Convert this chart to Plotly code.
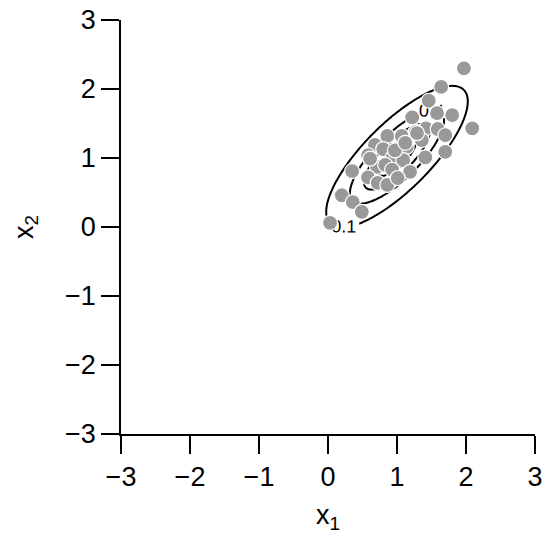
import numpy as np
import plotly.graph_objects as go

# Sample points (x1, x2)
x1 = [1.97, 1.64, 2.09, 1.46, 1.58, 1.80, 1.22, 1.42, 1.59, 1.70,
      1.36, 0.86, 1.07, 1.27, 0.68, 0.80, 1.01, 1.14, 1.41, 1.70,
      0.94, 1.09, 0.58, 0.71, 0.83, 0.93, 1.19, 0.58, 0.72, 0.86,
      0.35, 0.03, 0.20, 0.36, 0.49, 1.01, 0.97, 1.29, 0.61, 1.12]
x2 = [2.30, 2.03, 1.43, 1.83, 1.65, 1.62, 1.59, 1.43, 1.42, 1.33,
      1.26, 1.32, 1.32, 1.38, 1.19, 1.13, 1.13, 1.16, 1.01, 1.09,
      1.01, 0.97, 1.04, 0.87, 0.90, 0.83, 0.80, 0.72, 0.64, 0.61,
      0.81, 0.06, 0.46, 0.36, 0.22, 0.71, 1.11, 1.36, 0.99, 1.22]

# Bivariate normal density model for the contour lines
mu = [1.0, 1.02]
sigma = 0.46
rho = 0.78
levels_start, levels_end, levels_step = 0.1, 1.0, 0.3

tick_vals = [-3, -2, -1, 0, 1, 2, 3]
tick_text = ["\u22123", "\u22122", "\u22121", "0", "1", "2", "3"]

gx = np.linspace(-3, 3, 241)
gy = np.linspace(-3, 3, 241)
GX, GY = np.meshgrid(gx, gy)
u = (GX - mu[0]) / sigma
v = (GY - mu[1]) / sigma
Q = (u**2 - 2 * rho * u * v + v**2) / (1 - rho**2)
Z = np.exp(-Q / 2) / (2 * np.pi * sigma**2 * np.sqrt(1 - rho**2))

FONT = "Liberation Sans, Arial, Helvetica, sans-serif"

fig = go.Figure()
fig.add_trace(go.Contour(
    x=gx, y=gy, z=Z,
    contours=dict(coloring="lines", start=levels_start, end=levels_end,
                  size=levels_step, showlabels=True,
                  labelfont=dict(size=18, color="black", family=FONT)),
    colorscale=[[0, "black"], [1, "black"]],
    line=dict(width=2),
    showscale=False, hoverinfo="skip",
))
fig.add_trace(go.Scatter(
    x=x1, y=x2, mode="markers",
    marker=dict(size=15, color="#999999", line=dict(color="white", width=1.2)),
    showlegend=False, hoverinfo="skip",
))

axis_common = dict(
    range=[-3, 3], showgrid=False, zeroline=False, showline=True,
    linecolor="black", linewidth=1.5, ticks="outside", ticklen=18,
    tickwidth=1.5, tickcolor="black", tickvals=tick_vals, ticktext=tick_text,
    tickfont=dict(size=27, color="black", family=FONT),
    mirror=False, automargin=False, ticklabeloverflow="allow",
)
fig.update_layout(
    width=548, height=545,
    margin=dict(l=121, r=13, t=20, b=111),
    plot_bgcolor="white", paper_bgcolor="white",
    showlegend=False,
    xaxis=dict(**axis_common,
               title=dict(text="x<sub>1</sub>", font=dict(size=27, color="black", family=FONT), standoff=14)),
    yaxis=dict(**axis_common,
               title=dict(text="x<sub>2</sub>", font=dict(size=27, color="black", family=FONT), standoff=24)),
)
fig.write_html("out.html", config={"displayModeBar": False},
               post_script="document.body.style.margin='0px';document.body.style.overflow='hidden';")
